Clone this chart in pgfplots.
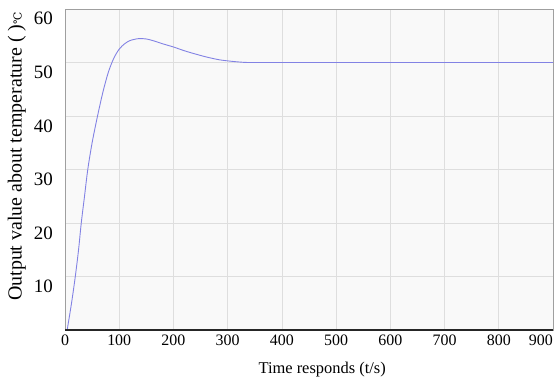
\documentclass[border=0pt]{standalone}
\usepackage{pgfplots}
\pgfplotsset{compat=1.18}
\usepackage{fontspec}
\setmainfont{Liberation Serif}
\newfontfamily\dejavu{DejaVu Serif}
\definecolor{curve}{RGB}{130,130,228}
\definecolor{gridc}{RGB}{222,222,222}
\definecolor{bgc}{RGB}{249,249,249}
\begin{document}
\begin{tikzpicture}
\begin{axis}[
  scale only axis,
  width=488bp, height=321bp,
  xmin=0, xmax=900, ymin=0, ymax=60,
  xtick={0,100,...,800},
  extra x ticks={900},
  extra x tick style={grid=none, xticklabel style={anchor=base east, xshift=0pt}},
  ytick={10,20,...,60},
  grid=major,
  major grid style={gridc, line width=0.6pt},
  tick style={draw=none},
  axis background/.style={fill=bgc},
  axis line style={draw=gray!75, line width=0.8pt},
  /pgf/number format/assume math mode=true,
  xticklabel style={font=\fontsize{16}{19}\selectfont, anchor=base, inner sep=0pt, yshift=-15bp},
  yticklabel style={font=\fontsize{19}{22}\selectfont, anchor=base east, inner sep=0pt, xshift=-12bp, yshift=-16bp},
  xlabel={Time responds (t/s)},
  ylabel={Output value about temperature ( ){\dejavu\fontsize{11}{12}\selectfont ℃}},
  xlabel style={font=\fontsize{16.5}{19}\selectfont, at={(axis description cs:0.527,-0.134)}, anchor=base, inner sep=0pt},
  ylabel style={font=\fontsize{20}{23}\selectfont, at={(axis description cs:-0.080,0.54)}, anchor=south, inner sep=0pt},
  clip=true,
]
\addplot[curve, line width=0.9pt, smooth] coordinates {
(4,0) (12,5) (19,10) (25,15) (30,20) (36,25) (42,30) (50,35) (60,40) (70,44.5)
(80,48.2) (90,50.8) (100,52.5) (110,53.5) (120,54.1) (135,54.45) (150,54.4)
(165,54.0) (180,53.5) (200,52.9) (220,52.2) (240,51.6) (262,51.0) (285,50.5)
(305,50.25) (323,50.08) (340,50) (400,50) (500,50) (600,50) (700,50) (800,50) (900,50)
};
\draw[black!85, line width=1.8pt] (rel axis cs:0,0) -- (rel axis cs:1,0);
\coordinate (bl) at (rel axis cs:0,0);
\coordinate (tr) at (rel axis cs:1,1);
\end{axis}
\path ([shift={(-65bp,-51bp)}]bl) rectangle ([shift={(3bp,9bp)}]tr);
\end{tikzpicture}
\end{document}
